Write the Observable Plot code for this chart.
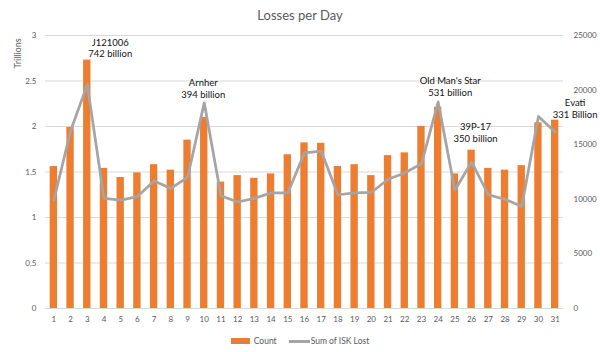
<!DOCTYPE html>
<html><head><meta charset="utf-8">
<script src="https://cdn.jsdelivr.net/npm/d3@7"></script>
<script src="https://cdn.jsdelivr.net/npm/@observablehq/plot@0.6"></script>
<style>
body{margin:0;background:#fff;font-family:Lato,"Open Sans",sans-serif;}
#wrap{width:600px;height:352px;overflow:hidden;}
#title{height:28px;line-height:30px;text-align:center;font-size:13px;color:#595959;}
#legend{height:22px;display:flex;justify-content:center;align-items:center;font-size:8.5px;color:#595959;}
.sw{display:inline-block;margin-right:4px;}
.item{display:flex;align-items:center;margin:0 6px;}
svg{overflow:visible;display:block;}
</style></head><body>
<div id="wrap"><div id="title"></div><div id="chart"></div><div id="legend"></div></div>
<script>
const title = "Losses per Day";
const yLabel = "Trillions";
const days = [1,2,3,4,5,6,7,8,9,10,11,12,13,14,15,16,17,18,19,20,21,22,23,24,25,26,27,28,29,30,31];
const count = [13000,16580,22750,12830,12000,12420,13170,12670,15420,17500,11580,12170,11920,12330,14080,15170,15130,13000,13170,12170,14000,14250,16670,18420,12330,14500,12830,12670,13080,17000,17250];
const iskTrillions = [1.19,1.95,2.46,1.21,1.19,1.23,1.40,1.32,1.44,2.26,1.24,1.17,1.21,1.27,1.27,1.71,1.73,1.25,1.27,1.275,1.42,1.49,1.59,2.27,1.30,1.61,1.25,1.20,1.12,2.11,1.94];
const seriesNames = ["Count","Sum of ISK Lost"];
const leftTicks = [0,0.5,1,1.5,2,2.5,3];
const rightTicks = [0,5000,10000,15000,20000,25000];
const countMax = 25000, iskMax = 3;
const annotDays = [3,10,24,26,31];
const annotLabels = ["J121006\n742 billion","Arnher\n394 billion","Old Man's Star\n531 billion","39P-17\n350 billion","Evati\n331 Billion"];

const rows = days.map((d,i)=>({day:d, count:count[i], isk:iskTrillions[i]}));
const annots = annotDays.map((d,i)=>({day:d, isk:iskTrillions[days.indexOf(d)], label:annotLabels[i]}));
// label offsets (px) from each annotated point
const offsets = [[23,-37],[-1,-15],[12,-16],[4,-30],[20,-24]];
const toLeft = c => c*iskMax/countMax;

document.getElementById("title").textContent = title;

const chart = Plot.plot({
  width: 600, height: 302,
  marginTop: 7, marginBottom: 22, marginLeft: 45, marginRight: 37,
  style: {fontFamily: "Lato, sans-serif", fontSize: "8px", color: "#595959", background: "#fff"},
  x: {type: "band", domain: days, paddingInner: 0.56, paddingOuter: 0.28, round: false},
  y: {domain: [0, iskMax]},
  marks: [
    Plot.ruleY(leftTicks, {stroke: "#d9d9d9", strokeWidth: 1}),
    Plot.barY(rows, {x: "day", y: d => toLeft(d.count), fill: "#ed7d31"}),
    Plot.line(rows, {x: "day", y: "isk", stroke: "#a5a5a5", strokeWidth: 2.75, strokeLinejoin: "round", strokeLinecap: "round"}),
    Plot.axisX({tickSize: 0, tickPadding: 8, label: null}),
    Plot.axisY({anchor: "left", ticks: leftTicks, tickSize: 0, tickPadding: 9, tickFormat: d => String(d), label: null}),
    Plot.axisY({anchor: "right", ticks: rightTicks.map(toLeft), tickSize: 0, tickPadding: 10, tickFormat: d => String(Math.round(d*countMax/iskMax)), textAnchor: "start", label: null}),
    Plot.text([yLabel], {frameAnchor: "top-left", text: d => d, rotate: -90, textAnchor: "middle", lineAnchor: "middle", dx: -27, dy: 18, fontSize: 9, fill: "#595959"}),
    ...annots.map((a,i) => Plot.text([a], {x: "day", y: "isk", text: "label", dx: offsets[i][0], dy: offsets[i][1], fontSize: 9.5, lineHeight: 1.25, fill: "#111"}))
  ]
});
document.getElementById("chart").appendChild(chart);

const leg = document.getElementById("legend");
seriesNames.forEach((n,i)=>{
  const it = document.createElement("div"); it.className = "item";
  const sw = document.createElement("span"); sw.className = "sw";
  if (i === 0) { sw.style.cssText = "width:19px;height:6px;background:#ed7d31;"; }
  else { sw.style.cssText = "width:21px;height:3px;background:#a5a5a5;margin-right:1px;"; }
  const t = document.createElement("span"); t.textContent = n;
  it.appendChild(sw); it.appendChild(t); leg.appendChild(it);
});
</script>
</body></html>
